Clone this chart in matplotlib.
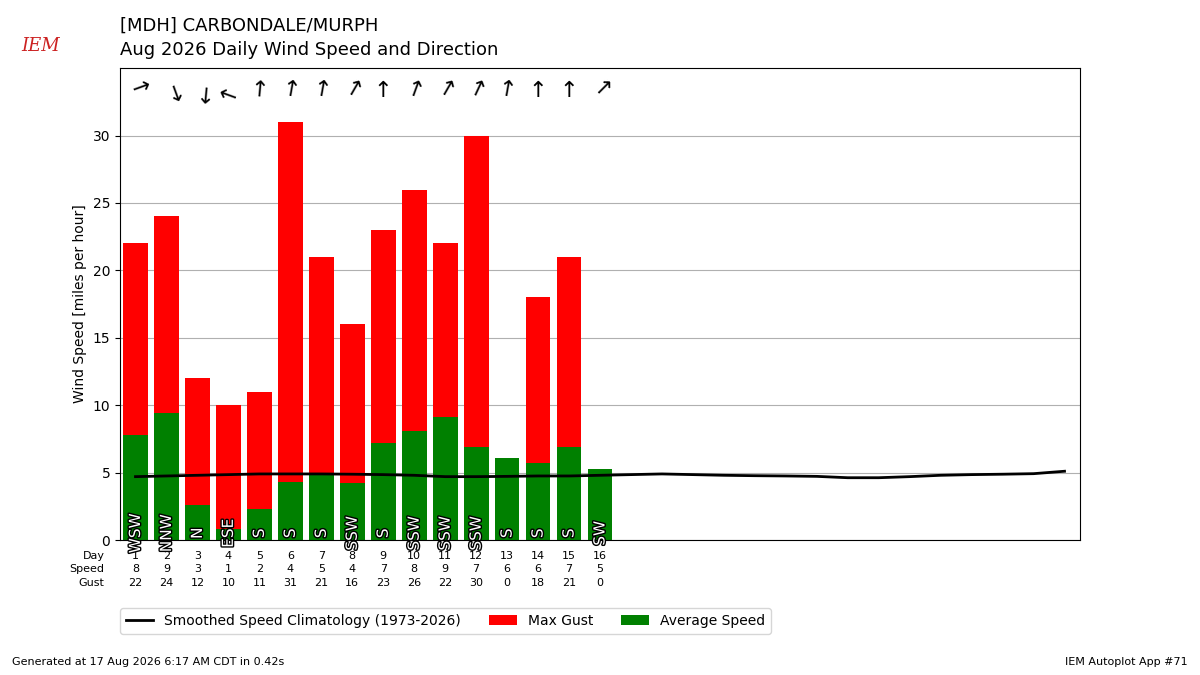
import matplotlib
matplotlib.use("Agg")
import matplotlib.pyplot as plt
import matplotlib.patheffects as pe

days = list(range(1, 17))
avg_speed = [7.8, 9.4, 2.6, 0.8, 2.3, 4.3, 5.0, 4.2, 7.2, 8.1, 9.1, 6.9, 6.1, 5.7, 6.9, 5.3]
max_gust = [22, 24, 12, 10, 11, 31, 21, 16, 23, 26, 22, 30, 0, 18, 21, 0]
dir_labels = ["WSW", "NNW", "N", "ESE", "S", "S", "S", "SSW", "S", "SSW",
              "SSW", "SSW", "S", "S", "S", "SW"]
dir_deg = [250, 340, 5, 110, 185, 190, 190, 210, 180, 200, 210, 205, 190, 180, 180, 225]
speed_row = [8, 9, 3, 1, 2, 4, 5, 4, 7, 8, 9, 7, 6, 6, 7, 5]

clim_days = list(range(1, 32))
clim_speed = [4.7, 4.75, 4.8, 4.85, 4.9, 4.9, 4.9, 4.88, 4.85, 4.8, 4.7, 4.7, 4.72, 4.75,
              4.75, 4.8, 4.85, 4.9, 4.85, 4.8, 4.77, 4.75, 4.72, 4.62, 4.62, 4.7, 4.8,
              4.85, 4.88, 4.92, 5.1]

fig = plt.figure(figsize=(12, 6.75), dpi=100)
ax = fig.add_axes([0.1, 0.2, 0.8, 0.699])

ax.bar(days, max_gust, color="red", label="Max Gust", zorder=2)
ax.bar(days, avg_speed, color="green", label="Average Speed", zorder=2)
ax.plot(clim_days, clim_speed, color="k", lw=2, zorder=3,
        label="Smoothed Speed Climatology (1973-2026)")

for d, lab in zip(days, dir_labels):
    ax.text(d, 0.5, lab, rotation=90, ha="center", va="center", color="white",
            fontsize=11, zorder=4, clip_on=False,
            path_effects=[pe.withStroke(linewidth=2, foreground="k")])

for d, deg in zip(days, dir_deg):
    to = (deg + 180) % 360
    ax.text(d, 33.3, "\u2191", rotation=-to, ha="center", va="center",
            fontsize=16, zorder=4)

ax.set_xlim(0.5, 31.5)
ax.set_ylim(0, 35)
ax.set_yticks([0, 5, 10, 15, 20, 25, 30])
ax.set_xticks([])
ax.grid(axis="y", zorder=0)
ax.set_axisbelow(True)
ax.set_ylabel("Wind Speed [miles per hour]")

trans = ax.get_xaxis_transform()
rows = [("Day", days, -0.033), ("Speed", speed_row, -0.062), ("Gust", max_gust, -0.091)]
for name, vals, yy in rows:
    ax.text(0.0, yy, name, transform=trans, ha="right", va="center", fontsize=8)
    for d, v in zip(days, vals):
        ax.text(d, yy, str(v), transform=trans, ha="center", va="center", fontsize=8)

h, l = ax.get_legend_handles_labels()
ax.legend(h, l, ncol=3, loc="upper left", bbox_to_anchor=(0.0, -0.145),
          borderaxespad=0, fontsize=10)

fig.text(0.1, 0.955, "[MDH] CARBONDALE/MURPH", fontsize=13)
fig.text(0.1, 0.918, "Aug 2026 Daily Wind Speed and Direction", fontsize=13)
fig.text(0.01, 0.015, "Generated at 17 Aug 2026 6:17 AM CDT in 0.42s", fontsize=8)
fig.text(0.99, 0.015, "IEM Autoplot App #71", fontsize=8, ha="right")
fig.text(0.018, 0.925, "IEM", fontsize=13, color="#cc2222", style="italic",
         family="DejaVu Serif")

fig.savefig("out.png", dpi=100)
